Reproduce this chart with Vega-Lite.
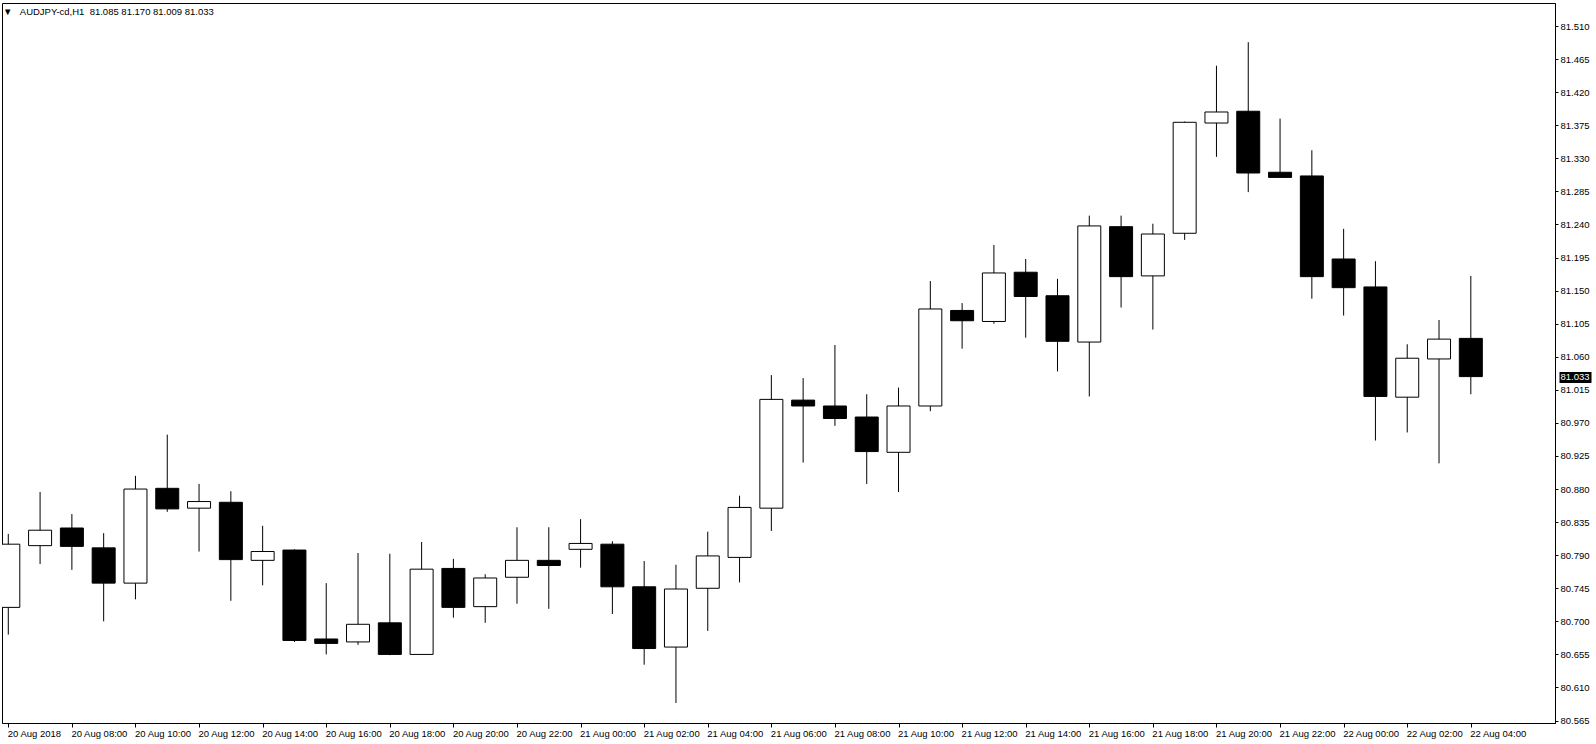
{
  "$schema": "https://vega.github.io/schema/vega-lite/v6.json",
  "width": 1553,
  "height": 720,
  "autosize": "none",
  "padding": {"left": 2, "top": 3, "right": 41, "bottom": 21},
  "background": "white",
  "title": {
    "text": "▼\u00a0\u00a0 AUDJPY-cd,H1\u00a0 81.085 81.170 81.009 81.033",
    "anchor": "start",
    "frame": "group",
    "orient": "top",
    "offset": -11,
    "dy": 10,
    "baseline": "alphabetic",
    "font": "Liberation Sans",
    "fontSize": 9.5,
    "fontWeight": "normal",
    "color": "black",
    "dx": 1
  },
  "data": {
    "values": [
      {"time": "2018-08-20T06:00:00Z", "open": 80.719, "high": 80.819, "low": 80.682, "close": 80.805},
      {"time": "2018-08-20T07:00:00Z", "open": 80.803, "high": 80.876, "low": 80.778, "close": 80.824},
      {"time": "2018-08-20T08:00:00Z", "open": 80.827, "high": 80.846, "low": 80.770, "close": 80.802},
      {"time": "2018-08-20T09:00:00Z", "open": 80.800, "high": 80.820, "low": 80.700, "close": 80.752},
      {"time": "2018-08-20T10:00:00Z", "open": 80.752, "high": 80.898, "low": 80.730, "close": 80.880},
      {"time": "2018-08-20T11:00:00Z", "open": 80.881, "high": 80.954, "low": 80.849, "close": 80.853},
      {"time": "2018-08-20T12:00:00Z", "open": 80.854, "high": 80.887, "low": 80.795, "close": 80.863},
      {"time": "2018-08-20T13:00:00Z", "open": 80.862, "high": 80.877, "low": 80.728, "close": 80.784},
      {"time": "2018-08-20T14:00:00Z", "open": 80.783, "high": 80.830, "low": 80.749, "close": 80.795},
      {"time": "2018-08-20T15:00:00Z", "open": 80.797, "high": 80.798, "low": 80.672, "close": 80.674},
      {"time": "2018-08-20T16:00:00Z", "open": 80.676, "high": 80.752, "low": 80.655, "close": 80.670},
      {"time": "2018-08-20T17:00:00Z", "open": 80.672, "high": 80.793, "low": 80.668, "close": 80.696},
      {"time": "2018-08-20T18:00:00Z", "open": 80.698, "high": 80.792, "low": 80.654, "close": 80.655},
      {"time": "2018-08-20T19:00:00Z", "open": 80.655, "high": 80.808, "low": 80.655, "close": 80.771},
      {"time": "2018-08-20T20:00:00Z", "open": 80.772, "high": 80.785, "low": 80.705, "close": 80.719},
      {"time": "2018-08-20T21:00:00Z", "open": 80.720, "high": 80.764, "low": 80.698, "close": 80.759},
      {"time": "2018-08-20T22:00:00Z", "open": 80.760, "high": 80.828, "low": 80.724, "close": 80.783},
      {"time": "2018-08-20T23:00:00Z", "open": 80.783, "high": 80.828, "low": 80.717, "close": 80.776},
      {"time": "2018-08-21T00:00:00Z", "open": 80.798, "high": 80.839, "low": 80.773, "close": 80.806},
      {"time": "2018-08-21T01:00:00Z", "open": 80.805, "high": 80.809, "low": 80.710, "close": 80.747},
      {"time": "2018-08-21T02:00:00Z", "open": 80.747, "high": 80.782, "low": 80.641, "close": 80.663},
      {"time": "2018-08-21T03:00:00Z", "open": 80.665, "high": 80.777, "low": 80.589, "close": 80.744},
      {"time": "2018-08-21T04:00:00Z", "open": 80.745, "high": 80.822, "low": 80.687, "close": 80.789},
      {"time": "2018-08-21T05:00:00Z", "open": 80.787, "high": 80.871, "low": 80.753, "close": 80.855},
      {"time": "2018-08-21T06:00:00Z", "open": 80.854, "high": 81.035, "low": 80.823, "close": 81.002},
      {"time": "2018-08-21T07:00:00Z", "open": 81.001, "high": 81.031, "low": 80.916, "close": 80.993},
      {"time": "2018-08-21T08:00:00Z", "open": 80.993, "high": 81.076, "low": 80.966, "close": 80.976},
      {"time": "2018-08-21T09:00:00Z", "open": 80.978, "high": 81.009, "low": 80.887, "close": 80.931},
      {"time": "2018-08-21T10:00:00Z", "open": 80.930, "high": 81.018, "low": 80.876, "close": 80.993},
      {"time": "2018-08-21T11:00:00Z", "open": 80.993, "high": 81.163, "low": 80.986, "close": 81.125},
      {"time": "2018-08-21T12:00:00Z", "open": 81.123, "high": 81.133, "low": 81.071, "close": 81.109},
      {"time": "2018-08-21T13:00:00Z", "open": 81.108, "high": 81.212, "low": 81.105, "close": 81.174},
      {"time": "2018-08-21T14:00:00Z", "open": 81.175, "high": 81.193, "low": 81.086, "close": 81.142},
      {"time": "2018-08-21T15:00:00Z", "open": 81.143, "high": 81.166, "low": 81.040, "close": 81.081},
      {"time": "2018-08-21T16:00:00Z", "open": 81.080, "high": 81.252, "low": 81.006, "close": 81.238},
      {"time": "2018-08-21T17:00:00Z", "open": 81.237, "high": 81.252, "low": 81.127, "close": 81.169},
      {"time": "2018-08-21T18:00:00Z", "open": 81.170, "high": 81.241, "low": 81.097, "close": 81.227},
      {"time": "2018-08-21T19:00:00Z", "open": 81.228, "high": 81.380, "low": 81.219, "close": 81.379},
      {"time": "2018-08-21T20:00:00Z", "open": 81.378, "high": 81.456, "low": 81.332, "close": 81.393},
      {"time": "2018-08-21T21:00:00Z", "open": 81.394, "high": 81.488, "low": 81.284, "close": 81.310},
      {"time": "2018-08-21T22:00:00Z", "open": 81.311, "high": 81.384, "low": 81.304, "close": 81.304},
      {"time": "2018-08-21T23:00:00Z", "open": 81.306, "high": 81.341, "low": 81.139, "close": 81.169},
      {"time": "2018-08-22T00:00:00Z", "open": 81.193, "high": 81.234, "low": 81.116, "close": 81.154},
      {"time": "2018-08-22T01:00:00Z", "open": 81.155, "high": 81.190, "low": 80.946, "close": 81.006},
      {"time": "2018-08-22T02:00:00Z", "open": 81.005, "high": 81.077, "low": 80.957, "close": 81.058},
      {"time": "2018-08-22T03:00:00Z", "open": 81.057, "high": 81.110, "low": 80.915, "close": 81.084},
      {"time": "2018-08-22T04:00:00Z", "open": 81.085, "high": 81.170, "low": 81.009, "close": 81.033}
    ]
  },
  "encoding": {
    "x": {
      "field": "time",
      "type": "temporal",
      "scale": {
        "type": "utc",
        "nice": false,
        "domain": [
          {"year": 2018, "month": 8, "date": 20, "hours": 5, "minutes": 57, "seconds": 34, "utc": true},
          {"year": 2018, "month": 8, "date": 22, "hours": 6, "minutes": 29, "seconds": 26, "utc": true}
        ]
      },
      "axis": {
        "title": null,
        "grid": false,
        "values": [
          {"year": 2018, "month": 8, "date": 20, "hours": 6, "utc": true},
          {"year": 2018, "month": 8, "date": 20, "hours": 8, "utc": true},
          {"year": 2018, "month": 8, "date": 20, "hours": 10, "utc": true},
          {"year": 2018, "month": 8, "date": 20, "hours": 12, "utc": true},
          {"year": 2018, "month": 8, "date": 20, "hours": 14, "utc": true},
          {"year": 2018, "month": 8, "date": 20, "hours": 16, "utc": true},
          {"year": 2018, "month": 8, "date": 20, "hours": 18, "utc": true},
          {"year": 2018, "month": 8, "date": 20, "hours": 20, "utc": true},
          {"year": 2018, "month": 8, "date": 20, "hours": 22, "utc": true},
          {"year": 2018, "month": 8, "date": 21, "hours": 0, "utc": true},
          {"year": 2018, "month": 8, "date": 21, "hours": 2, "utc": true},
          {"year": 2018, "month": 8, "date": 21, "hours": 4, "utc": true},
          {"year": 2018, "month": 8, "date": 21, "hours": 6, "utc": true},
          {"year": 2018, "month": 8, "date": 21, "hours": 8, "utc": true},
          {"year": 2018, "month": 8, "date": 21, "hours": 10, "utc": true},
          {"year": 2018, "month": 8, "date": 21, "hours": 12, "utc": true},
          {"year": 2018, "month": 8, "date": 21, "hours": 14, "utc": true},
          {"year": 2018, "month": 8, "date": 21, "hours": 16, "utc": true},
          {"year": 2018, "month": 8, "date": 21, "hours": 18, "utc": true},
          {"year": 2018, "month": 8, "date": 21, "hours": 20, "utc": true},
          {"year": 2018, "month": 8, "date": 21, "hours": 22, "utc": true},
          {"year": 2018, "month": 8, "date": 22, "hours": 0, "utc": true},
          {"year": 2018, "month": 8, "date": 22, "hours": 2, "utc": true},
          {"year": 2018, "month": 8, "date": 22, "hours": 4, "utc": true}
        ],
        "labelExpr": "+datum.value < 1534745000000 ? '20 Aug 2018' : utcFormat(datum.value, '%d %b %H:%M')",
        "labelAlign": "left",
        "labelBaseline": "alphabetic",
        "labelPadding": 9,
        "labelOffset": -1,
        "tickSize": 4,
        "labelOverlap": false,
        "labelFlush": false
      }
    }
  },
  "layer": [
    {
      "mark": {"type": "rule", "color": "black", "strokeWidth": 1},
      "encoding": {
        "y": {
          "field": "low",
          "type": "quantitative",
          "scale": {"domain": [80.5617, 81.5413], "nice": false, "zero": false},
          "axis": {
            "orient": "right",
            "title": null,
            "grid": false,
            "values": [80.565, 80.61, 80.655, 80.7, 80.745, 80.79, 80.835, 80.88, 80.925, 80.97, 81.015, 81.06, 81.105, 81.15, 81.195, 81.24, 81.285, 81.33, 81.375, 81.42, 81.465, 81.51],
            "format": ".3f",
            "labelAlign": "left",
            "labelBaseline": "middle",
            "labelOverlap": false,
            "labelFlush": false,
            "tickSize": 3,
            "labelPadding": 2
          }
        },
        "y2": {"field": "high"}
      }
    },
    {
      "mark": {"type": "bar", "width": 23, "stroke": "black", "strokeWidth": 1, "clip": true},
      "encoding": {
        "y": {
          "field": "open",
          "type": "quantitative",
          "axis": {
            "orient": "right",
            "title": null,
            "grid": false,
            "domain": false,
            "values": [81.033],
            "format": ".3f",
            "labelAlign": "left",
            "labelBaseline": "middle",
            "labelOverlap": false,
            "labelFlush": false,
            "tickSize": 36,
            "tickWidth": 11,
            "tickDash": [0, 4, 32, 10],
            "labelPadding": -31,
            "labelColor": "white"
          }
        },
        "y2": {"field": "close"},
        "fill": {"condition": {"test": "datum.close >= datum.open", "value": "white"}, "value": "black"}
      }
    }
  ],
  "resolve": {"axis": {"y": "independent"}},
  "config": {
    "view": {"stroke": "black", "strokeWidth": 1},
    "axis": {
      "labelFont": "Liberation Sans",
      "labelFontSize": 9.5,
      "labelColor": "black",
      "domainColor": "black",
      "domainWidth": 1,
      "tickColor": "black",
      "tickWidth": 1
    }
  }
}
